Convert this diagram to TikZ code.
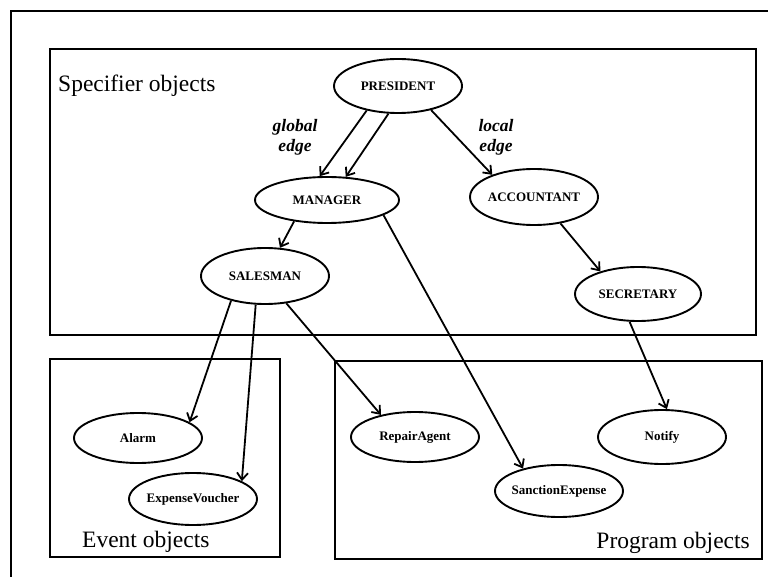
\documentclass[tikz,border=0pt]{standalone}
\usepackage{fontspec}
\setmainfont{Liberation Serif}
\usetikzlibrary{shapes.geometric,arrows.meta}
\begin{document}
\begin{tikzpicture}[x=1pt,y=-1pt,
  obj/.style={ellipse,draw,line width=1.9pt,inner ysep=0pt,inner xsep=-3pt,
    font=\fontsize{13}{15}\selectfont\bfseries},
  link/.style={line width=1.8pt,
    -{Straight Barb[length=7pt,width=11pt,line width=1.8pt]}},
  group/.style={draw,line width=1.9pt},
  grouplabel/.style={font=\fontsize{23.5}{26}\selectfont,inner sep=0pt},
  edgelabel/.style={font=\fontsize{17.5}{20}\selectfont\bfseries\itshape,
    align=center,inner sep=0pt}]
\useasboundingbox (0,0) rectangle (768,577);

% frame and the three object groups
\draw[line width=1.6pt] (11,577) -- (11,11) -- (768,11);
\draw[group] (50,49) rectangle (756,335);
\draw[group] (50,359) rectangle (280,557);
\draw[group] (335,361) rectangle (762,559);

\node[grouplabel,anchor=base west] (spec) at (58,92) {Specifier objects};
\node[grouplabel,anchor=base west] (evt) at (82,547) {Event objects};
\node[grouplabel,anchor=base east] (prog) at (750,548) {Program objects};

% specifier objects
\node[obj,minimum width=128pt,minimum height=54pt] (pres) at (398,86) {PRESIDENT};
\node[obj,minimum width=144pt,minimum height=46pt] (man) at (327,200) {MANAGER};
\node[obj,minimum width=128pt,minimum height=56pt] (acc) at (534,197) {ACCOUNTANT};
\node[obj,minimum width=128pt,minimum height=56pt] (sal) at (265,276) {SALESMAN};
\node[obj,minimum width=126pt,minimum height=54pt] (sec) at (638,294) {SECRETARY};

% event objects
\node[obj,minimum width=128pt,minimum height=50pt] (alarm) at (138,438) {Alarm};
\node[obj,minimum width=128pt,minimum height=52pt] (voucher) at (193,499) {ExpenseVoucher};

% program objects
\node[obj,minimum width=128pt,minimum height=50pt] (repair) at (415,437) {RepairAgent};
\node[obj,minimum width=128pt,minimum height=52pt] (sanction) at (559,491) {SanctionExpense};
\node[obj,minimum width=128pt,minimum height=54pt] (notify) at (662,437) {Notify};

% edge kind labels
\node[edgelabel] (glob) at (295,137) {global\\edge};
\node[edgelabel] (loc) at (496,137) {local\\edge};

% edges
\draw[link] (pres.218) -- (man.107);
\draw[link] (pres.251) -- (man.51);
\draw[link] (pres.324) -- (acc.152);
\draw[link] (man.213) -- (sal.62);
\draw[link] (man.345) -- (sanction.148);
\draw[link] (acc.315) -- (sec.149);
\draw[link] (sec.253) -- (notify.80);
\draw[link] (sal.216) -- (alarm.17);
\draw[link] (sal.252) -- (voucher.20);
\draw[link] (sal.308) -- (repair.147);
\end{tikzpicture}
\end{document}
